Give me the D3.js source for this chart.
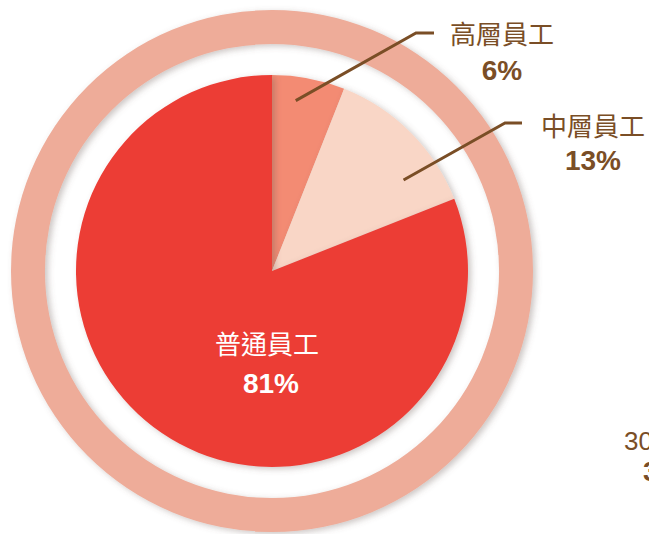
<!DOCTYPE html>
<html>
<head>
<meta charset="utf-8">
<script src="https://cdn.jsdelivr.net/npm/d3@7"></script>
<style>
  html, body { margin: 0; padding: 0; background: #fff; overflow: hidden; }
  svg { display: block; }
</style>
</head>
<body>
<div id="chart"></div>
<script>
// data
var categories = ["高層員工", "中層員工", "普通員工"];
var shares = [6, 13, 81];
var sliceColors = ["#f38b73", "#f9d6c6", "#ec3d36"];

var width = 649, height = 534;
var cx = 272, cy = 271;
var pieRadius = 196;
var ringInner = 227, ringOuter = 261;

var svg = d3.select("#chart")
    .append("svg")
    .attr("width", width)
    .attr("height", height);

var defs = svg.append("defs");

// soft shadow used on the ring and the slices
var shadow = defs.append("filter")
    .attr("id", "shadow")
    .attr("x", "-20%").attr("y", "-20%")
    .attr("width", "140%").attr("height", "140%");
shadow.append("feDropShadow")
    .attr("dx", 3).attr("dy", 2)
    .attr("stdDeviation", 3)
    .attr("flood-color", "#6b5a55")
    .attr("flood-opacity", 0.35);

var g = svg.append("g")
    .attr("transform", `translate(${cx}, ${cy})`);

// outer ring
g.append("path")
    .attr("d", d3.arc().innerRadius(ringInner).outerRadius(ringOuter)
        .startAngle(0).endAngle(2 * Math.PI)())
    .attr("fill", "#eeac99")
    .attr("filter", "url(#shadow)");

var pie = d3.pie().sort(null).value(d => d);
var arcs = pie(shares);

var arc = d3.arc().innerRadius(0).outerRadius(pieRadius);

g.selectAll(".slice")
    .data(arcs)
    .enter()
    .append("path")
    .attr("class", "slice")
    .attr("d", arc)
    .attr("fill", (d, i) => sliceColors[i])
    .attr("filter", "url(#shadow)");

// leader lines + outside labels for the two small slices
var labelLayout = [
    { r: 172, angleShift: -0.05, elbow: [416, 33], end: [434, 33], text: [502, 44], pct: 80 },
    { r: 160, angleShift: 0.18, elbow: [505, 123], end: [522, 123], text: [593, 136], pct: 170 }
];

labelLayout.forEach(function (lay, i) {
    var a = (arcs[i].startAngle + arcs[i].endAngle) / 2 + lay.angleShift;
    var sx = cx + lay.r * Math.sin(a);
    var sy = cy - lay.r * Math.cos(a);

    svg.append("polyline")
        .attr("points", [[sx, sy], lay.elbow, lay.end].map(p => p.join(",")).join(" "))
        .attr("fill", "none")
        .attr("stroke", "#7a4e26")
        .attr("stroke-width", 3);

    svg.append("text")
        .attr("x", lay.text[0])
        .attr("y", lay.text[1])
        .attr("text-anchor", "middle")
        .attr("fill", "#7a4e26")
        .attr("font-family", "'Noto Sans CJK TC', sans-serif")
        .attr("font-size", "26px")
        .text(categories[i]);

    svg.append("text")
        .attr("x", lay.text[0])
        .attr("y", lay.pct)
        .attr("text-anchor", "middle")
        .attr("fill", "#7a4e26")
        .attr("font-family", "'Liberation Sans', Arial, sans-serif")
        .attr("font-weight", "bold")
        .attr("font-size", "28px")
        .text(shares[i] + "%");
});

// label inside the big slice
svg.append("text")
    .attr("x", 267)
    .attr("y", 354)
    .attr("text-anchor", "middle")
    .attr("fill", "#fff")
    .attr("font-family", "'Noto Sans CJK TC', sans-serif")
    .attr("font-size", "26px")
    .text(categories[2]);

svg.append("text")
    .attr("x", 271)
    .attr("y", 393)
    .attr("text-anchor", "middle")
    .attr("fill", "#fff")
    .attr("font-family", "'Liberation Sans', Arial, sans-serif")
    .attr("font-weight", "bold")
    .attr("font-size", "28px")
    .text(shares[2] + "%");

// cut-off text from the neighbouring chart at the right edge
svg.append("text")
    .attr("x", 624)
    .attr("y", 450)
    .attr("fill", "#7a4e26")
    .attr("font-family", "'Liberation Sans', Arial, sans-serif")
    .attr("font-size", "26px")
    .text("30");

svg.append("text")
    .attr("x", 643)
    .attr("y", 481)
    .attr("fill", "#7a4e26")
    .attr("font-family", "'Liberation Sans', Arial, sans-serif")
    .attr("font-weight", "bold")
    .attr("font-size", "28px")
    .text("3");
</script>
</body>
</html>
